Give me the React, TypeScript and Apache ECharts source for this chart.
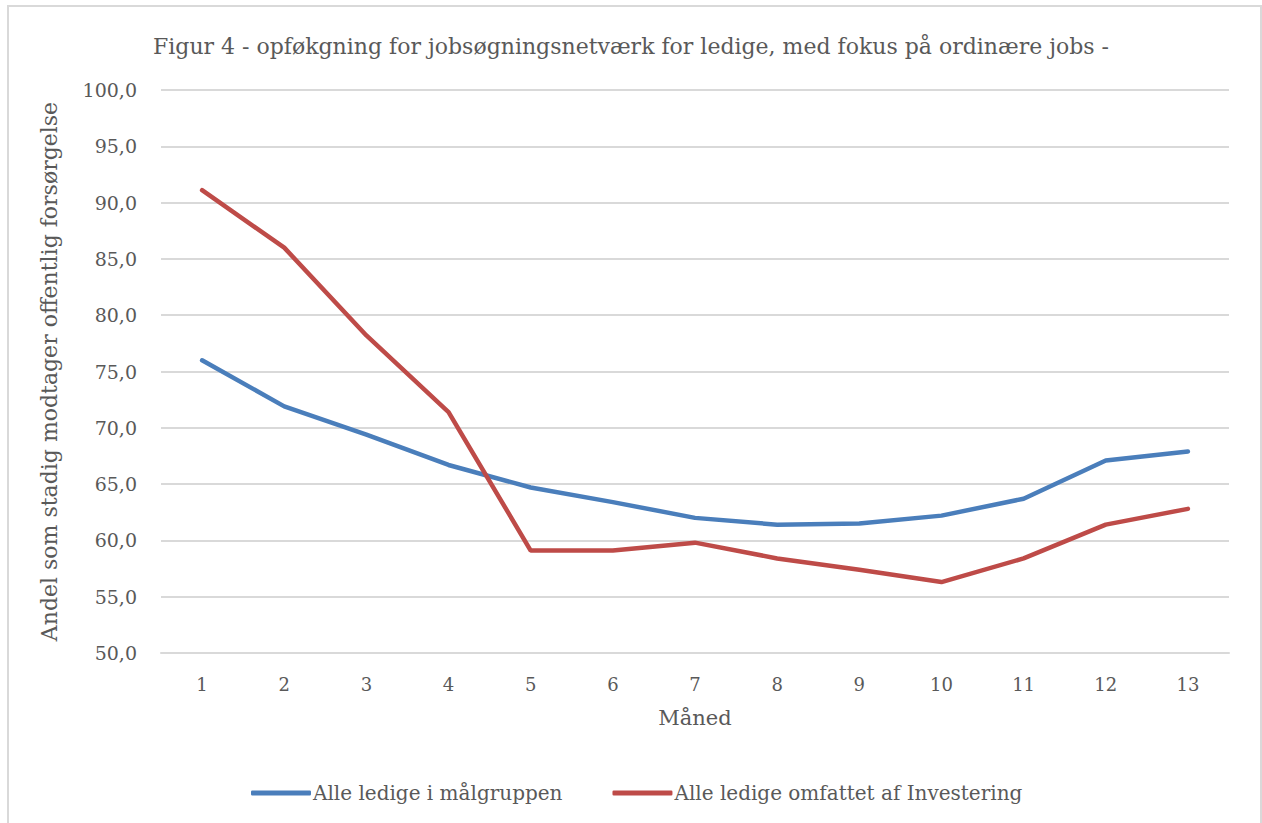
import React, { useEffect, useRef } from "react";
import * as echarts from "echarts";

const months = ["1", "2", "3", "4", "5", "6", "7", "8", "9", "10", "11", "12", "13"];
const blueName = "Alle ledige i målgruppen";
const redName = "Alle ledige omfattet af Investering";
const blueValues = [76.0, 71.9, 69.4, 66.7, 64.7, 63.4, 62.0, 61.4, 61.5, 62.2, 63.7, 67.1, 67.9];
const redValues = [91.1, 86.0, 78.2, 71.4, 59.1, 59.1, 59.8, 58.4, 57.4, 56.3, 58.4, 61.4, 62.8];
const titleText = "Figur 4 - opføkgning for jobsøgningsnetværk for ledige, med fokus på ordinære jobs -";

const FONT = "'DejaVu Serif', 'Liberation Serif', serif";
const TXT = "#595959";

export default function App() {
  const ref = useRef<HTMLDivElement>(null);
  useEffect(() => {
    if (!ref.current) return;
    const chart = echarts.init(ref.current, undefined, { renderer: "svg" });
    chart.setOption({
      animation: false,
      backgroundColor: "#ffffff",
      textStyle: { fontFamily: FONT, color: TXT },
      title: {
        text: titleText,
        left: 148,
        top: 30,
        textStyle: { fontFamily: FONT, fontSize: 22, fontWeight: "normal", color: TXT },
      },
      graphic: [
        {
          type: "rect",
          shape: { x: 8, y: 6, width: 1253, height: 830 },
          style: { fill: "none", stroke: "#d9d9d9", lineWidth: 2 },
          silent: true,
        },
      ],
      legend: {
        left: 246,
        top: 778,
        icon: "roundRect",
        itemWidth: 60,
        itemHeight: 5,
        itemGap: 50,
        textStyle: { fontFamily: FONT, fontSize: 20, color: TXT, padding: [0, 0, 0, -3] },
        data: [blueName, redName],
      },
      grid: { left: 161, right: 33, top: 90, bottom: 170 },
      xAxis: {
        type: "category",
        data: months,
        boundaryGap: true,
        name: "Måned",
        nameLocation: "middle",
        nameGap: 54,
        nameTextStyle: { fontFamily: FONT, fontSize: 21, color: TXT },
        axisLine: { show: true, lineStyle: { color: "#d9d9d9", width: 2 } },
        axisTick: { show: false },
        axisLabel: { fontFamily: FONT, fontSize: 18, color: TXT, margin: 22 },
      },
      yAxis: {
        type: "value",
        min: 50,
        max: 100,
        interval: 5,
        name: "Andel som stadig modtager offentlig forsørgelse",
        nameLocation: "middle",
        nameGap: 101,
        nameTextStyle: { fontFamily: FONT, fontSize: 22, color: TXT },
        axisLine: { show: false },
        axisTick: { show: false },
        splitLine: { lineStyle: { color: "#d9d9d9", width: 2 } },
        axisLabel: {
          fontFamily: FONT,
          fontSize: 19,
          color: TXT,
          margin: 24,
          formatter: (v: number) => v.toFixed(1).replace(".", ","),
        },
      },
      series: [
        {
          name: blueName,
          type: "line",
          data: blueValues,
          showSymbol: false,
          symbol: "none",
          itemStyle: { color: "#4a7ebb" },
          lineStyle: { color: "#4a7ebb", width: 4.5, cap: "round" },
        },
        {
          name: redName,
          type: "line",
          data: redValues,
          showSymbol: false,
          symbol: "none",
          itemStyle: { color: "#be4b48" },
          lineStyle: { color: "#be4b48", width: 4.5, cap: "round" },
        },
      ],
    });
    return () => chart.dispose();
  }, []);
  return (
    <div
      ref={ref}
      style={{ position: "fixed", left: 0, top: 0, width: 1262, height: 823, background: "#fff" }}
    />
  );
}
